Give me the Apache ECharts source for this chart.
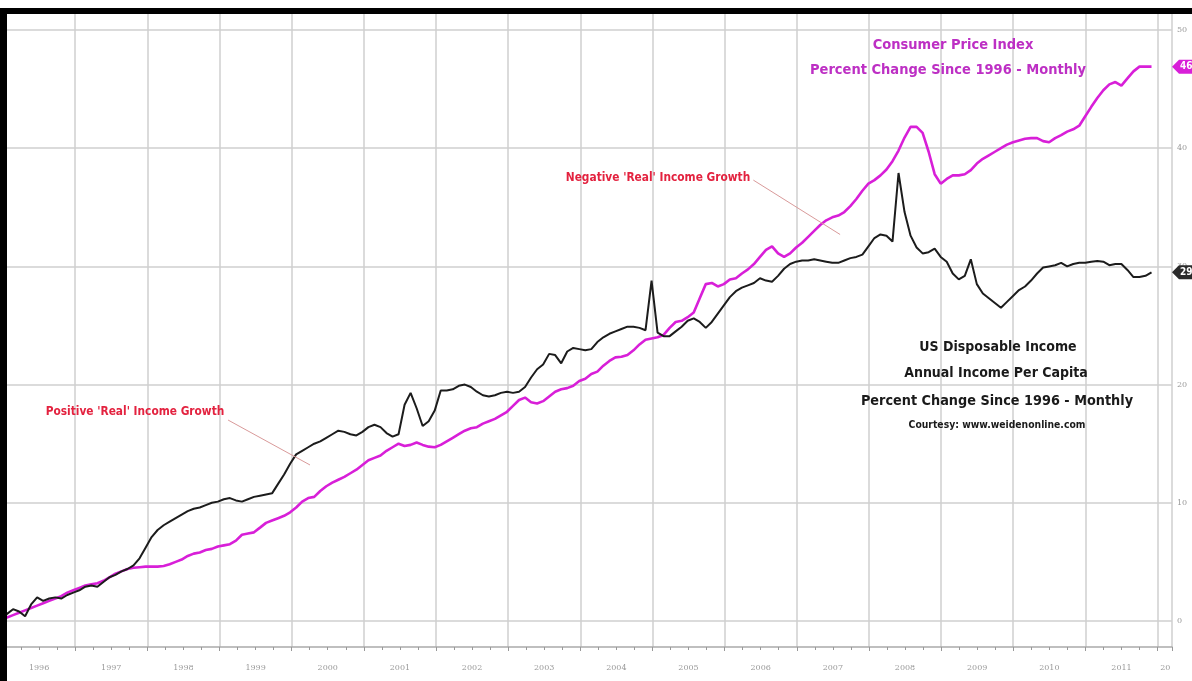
<!DOCTYPE html>
<html>
<head>
<meta charset="utf-8">
<script src="https://cdn.jsdelivr.net/npm/echarts@6/dist/echarts.min.js"></script>
<style>
html,body{margin:0;padding:0;background:#fff;}
#chart{width:1192px;height:681px;}
</style>
</head>
<body>
<div id="chart"></div>
<script>
// Year tick labels (each centered within its year; last one is clipped in the original)
const yearLabels = ['1996','1997','1998','1999','2000','2001','2002','2003','2004','2005','2006','2007','2008','2009','2010','2011'];
const partialYearLabel = '20';
const yTickLabels = ['0','10','20','30','40','50'];

// Monthly values, Jan 1996 .. Dec 2011 (percent change since 1996)
const cpi = [
0.0,0.3,0.5,0.7,0.9,1.1,1.3,1.5,1.7,1.9,2.1,2.4,
2.6,2.8,3.0,3.1,3.2,3.4,3.7,4.0,4.2,4.4,4.5,4.55,
4.6,4.6,4.6,4.65,4.8,5.0,5.2,5.5,5.7,5.8,6.0,6.1,
6.3,6.4,6.5,6.8,7.3,7.4,7.5,7.9,8.3,8.5,8.7,8.9,
9.2,9.6,10.1,10.4,10.5,11.0,11.4,11.7,11.95,12.2,12.5,12.8,
13.2,13.6,13.8,14.0,14.4,14.7,15.0,14.8,14.9,15.1,14.9,14.75,
14.7,14.9,15.2,15.5,15.8,16.1,16.3,16.4,16.7,16.9,17.1,17.4,
17.7,18.2,18.7,18.9,18.5,18.4,18.6,19.0,19.4,19.6,19.7,19.9,
20.3,20.5,20.9,21.1,21.6,22.0,22.3,22.35,22.5,22.9,23.4,23.8,
23.9,24.0,24.2,24.8,25.3,25.4,25.7,26.1,27.3,28.5,28.6,28.3,
28.5,28.9,29.0,29.4,29.75,30.2,30.8,31.4,31.7,31.1,30.8,31.1,
31.6,32.0,32.5,33.0,33.5,33.9,34.15,34.3,34.6,35.1,35.7,36.4,
37.0,37.3,37.7,38.2,38.9,39.8,40.9,41.8,41.8,41.3,39.7,37.8,
37.0,37.4,37.7,37.7,37.8,38.15,38.7,39.1,39.4,39.7,40.0,40.3,
40.5,40.65,40.8,40.85,40.85,40.6,40.5,40.85,41.1,41.4,41.6,41.9,
42.7,43.5,44.25,44.9,45.4,45.6,45.3,45.9,46.5,46.9,46.9,46.9
];
const income = [
0.0,0.6,1.0,0.8,0.4,1.4,2.0,1.7,1.9,2.0,1.9,2.2,
2.4,2.6,2.9,3.0,2.9,3.3,3.7,3.9,4.2,4.4,4.7,5.3,
6.2,7.1,7.7,8.1,8.4,8.7,9.0,9.3,9.5,9.6,9.8,10.0,
10.1,10.3,10.4,10.2,10.1,10.3,10.5,10.6,10.7,10.8,11.6,12.4,
13.3,14.1,14.4,14.7,15.0,15.2,15.5,15.8,16.1,16.0,15.8,15.7,
16.0,16.4,16.6,16.4,15.9,15.6,15.8,18.3,19.3,18.0,16.5,16.9,
17.8,19.5,19.5,19.6,19.9,20.0,19.8,19.4,19.1,19.0,19.1,19.3,
19.4,19.3,19.4,19.8,20.6,21.3,21.7,22.6,22.5,21.8,22.8,23.1,
23.0,22.9,23.0,23.6,24.0,24.3,24.5,24.7,24.9,24.9,24.8,24.6,
28.8,24.4,24.1,24.1,24.5,24.9,25.4,25.6,25.3,24.8,25.3,26.0,
26.7,27.4,27.9,28.2,28.4,28.6,29.0,28.8,28.7,29.2,29.8,30.2,
30.4,30.5,30.5,30.6,30.5,30.4,30.3,30.3,30.5,30.7,30.8,31.0,
31.7,32.4,32.7,32.6,32.1,37.9,34.6,32.6,31.6,31.1,31.2,31.5,
30.8,30.4,29.4,28.9,29.2,30.6,28.5,27.7,27.3,26.9,26.5,27.0,
27.5,28.0,28.3,28.8,29.4,29.9,30.0,30.1,30.3,30.0,30.2,30.3,
30.3,30.4,30.45,30.4,30.1,30.2,30.2,29.7,29.1,29.1,29.2,29.5
];

const X_MAX = 194.4; // months since Jan 1996 at the right edge
const cpiPts = cpi.map((v, i) => [i, v]);
const incPts = income.map((v, i) => [i, v]);

const chart = echarts.init(document.getElementById('chart'), null, {renderer: 'canvas'});
const narrow = "'Liberation Sans Narrow', 'DejaVu Sans Condensed', 'Liberation Sans', sans-serif";
const gridColor = '#cfcfcf';

const option = {
  backgroundColor: '#ffffff',
  animation: false,
  grid: [
    {left: 1, right: 20, top: 30, bottom: 60},
    {left: 1, right: 20, top: 12, bottom: 34}
  ],
  xAxis: [
    {gridIndex: 0, type: 'value', min: 0, max: X_MAX, show: false},
    {gridIndex: 1, type: 'value', min: 0, max: X_MAX, interval: 12,
     axisLine: {show: true, lineStyle: {color: '#aaaaaa', width: 1.5}},
     axisTick: {show: true, length: 4, lineStyle: {color: '#999'}},
     minorTick: {show: true, splitNumber: 4, length: 3, lineStyle: {color: '#999'}},
     axisLabel: {show: false},
     splitLine: {show: true, lineStyle: {color: gridColor, width: 1.5}}},
    {gridIndex: 1, type: 'value', min: 0, max: X_MAX, interval: 6, position: 'bottom',
     axisLine: {show: false}, axisTick: {show: false}, splitLine: {show: false},
     axisLabel: {show: true, color: '#9a9a9a', fontSize: 8, margin: 17, fontFamily: 'DejaVu Serif',
       formatter: v => (v % 12 === 6) ? (yearLabels[(v - 6) / 12] || '') : ''}}
  ],
  yAxis: [
    {gridIndex: 0, type: 'value', position: 'right', min: 0, max: 50, interval: 10,
     axisLine: {show: false},
     axisTick: {show: true, length: 4, lineStyle: {color: '#444', width: 1.5}},
     minorTick: {show: true, splitNumber: 2, length: 3, lineStyle: {color: '#bbb'}},
     axisLabel: {color: '#9a9a9a', fontSize: 8, margin: 5, fontFamily: 'DejaVu Serif',
       formatter: v => yTickLabels[Math.round(v / 10)] || ''},
     splitLine: {show: true, lineStyle: {color: gridColor, width: 1.5}}},
    {gridIndex: 1, type: 'value', position: 'right', min: 0, max: 1,
     axisLine: {show: true, lineStyle: {color: '#bbbbbb', width: 1.5}},
     axisTick: {show: false}, axisLabel: {show: false}, splitLine: {show: false}}
  ],
  series: [
    {name: 'CPI', type: 'line', xAxisIndex: 0, yAxisIndex: 0, data: cpiPts,
     showSymbol: false, lineStyle: {color: '#d81fd8', width: 2.6}, z: 3,
     markLine: {silent: true, symbol: ['none', 'none'], label: {show: false},
       lineStyle: {color: '#d99a9a', width: 1, type: 'solid'},
       data: [
         [{coord: [37.7, 17.0]}, {coord: [51.3, 13.2]}],
         [{coord: [124.9, 37.3]}, {coord: [139.3, 32.7]}]
       ]}},
    {name: 'Income', type: 'line', xAxisIndex: 0, yAxisIndex: 0, data: incPts,
     showSymbol: false, lineStyle: {color: '#1c1c1c', width: 2}, z: 4}
  ]
};
chart.setOption(option);

function txt(x, y, text, color, size, font) {
  return {type: 'text', x: x, y: y, z: 50,
    style: {text: text, fill: color, font: 'bold ' + size + 'px ' + (font || narrow),
            textAlign: 'center', textVerticalAlign: 'middle'}};
}
const magenta = '#bd2fc4';
const red = '#e3223f';
const cpiY = chart.convertToPixel({yAxisIndex: 0}, cpi[cpi.length - 1]);
const incY = chart.convertToPixel({yAxisIndex: 0}, income[income.length - 1]);
const axisX = chart.convertToPixel({xAxisIndex: 0}, X_MAX);
const yearX = chart.convertToPixel({xAxisIndex: 0}, 193.3);

function tag(y, fill, label) {
  return [
    {type: 'polygon', z: 40, shape: {points: [[axisX, y], [axisX + 7, y - 7], [1200, y - 7], [1200, y + 7], [axisX + 7, y + 7]]},
     style: {fill: fill}},
    {type: 'text', z: 41, x: axisX + 8, y: y,
     style: {text: label, fill: '#fff', font: 'bold 10px ' + narrow, textVerticalAlign: 'middle'}}
  ];
}

chart.setOption({
  graphic: [
    txt(953, 45, 'Consumer Price Index', magenta, 14.5),
    txt(948, 70, 'Percent Change Since 1996 - Monthly', magenta, 14.5),
    txt(998, 347, 'US Disposable Income', '#1a1a1a', 14),
    txt(996, 373, 'Annual Income Per Capita', '#1a1a1a', 14),
    txt(997, 401, 'Percent Change Since 1996 - Monthly', '#1a1a1a', 14.3),
    txt(997, 425, 'Courtesy: www.weidenonline.com', '#1a1a1a', 10.3),
    txt(135, 412, "Positive 'Real' Income Growth", red, 11.8),
    txt(658, 178, "Negative 'Real' Income Growth", red, 11.8),
    {type: 'text', x: yearX, y: 668, z: 50,
     style: {text: partialYearLabel, fill: '#9a9a9a', font: '8px DejaVu Serif', textAlign: 'center', textVerticalAlign: 'middle'}},
    ...tag(cpiY, '#d81fd8', cpi[cpi.length - 1].toFixed(1)),
    ...tag(incY, '#2a2a2a', income[income.length - 1].toFixed(1)),
    {type: 'rect', z: 60, shape: {x: 0, y: 8, width: 1192, height: 6}, style: {fill: '#000'}},
    {type: 'rect', z: 60, shape: {x: 0, y: 8, width: 7, height: 673}, style: {fill: '#000'}}
  ]
});
</script>
</body>
</html>
